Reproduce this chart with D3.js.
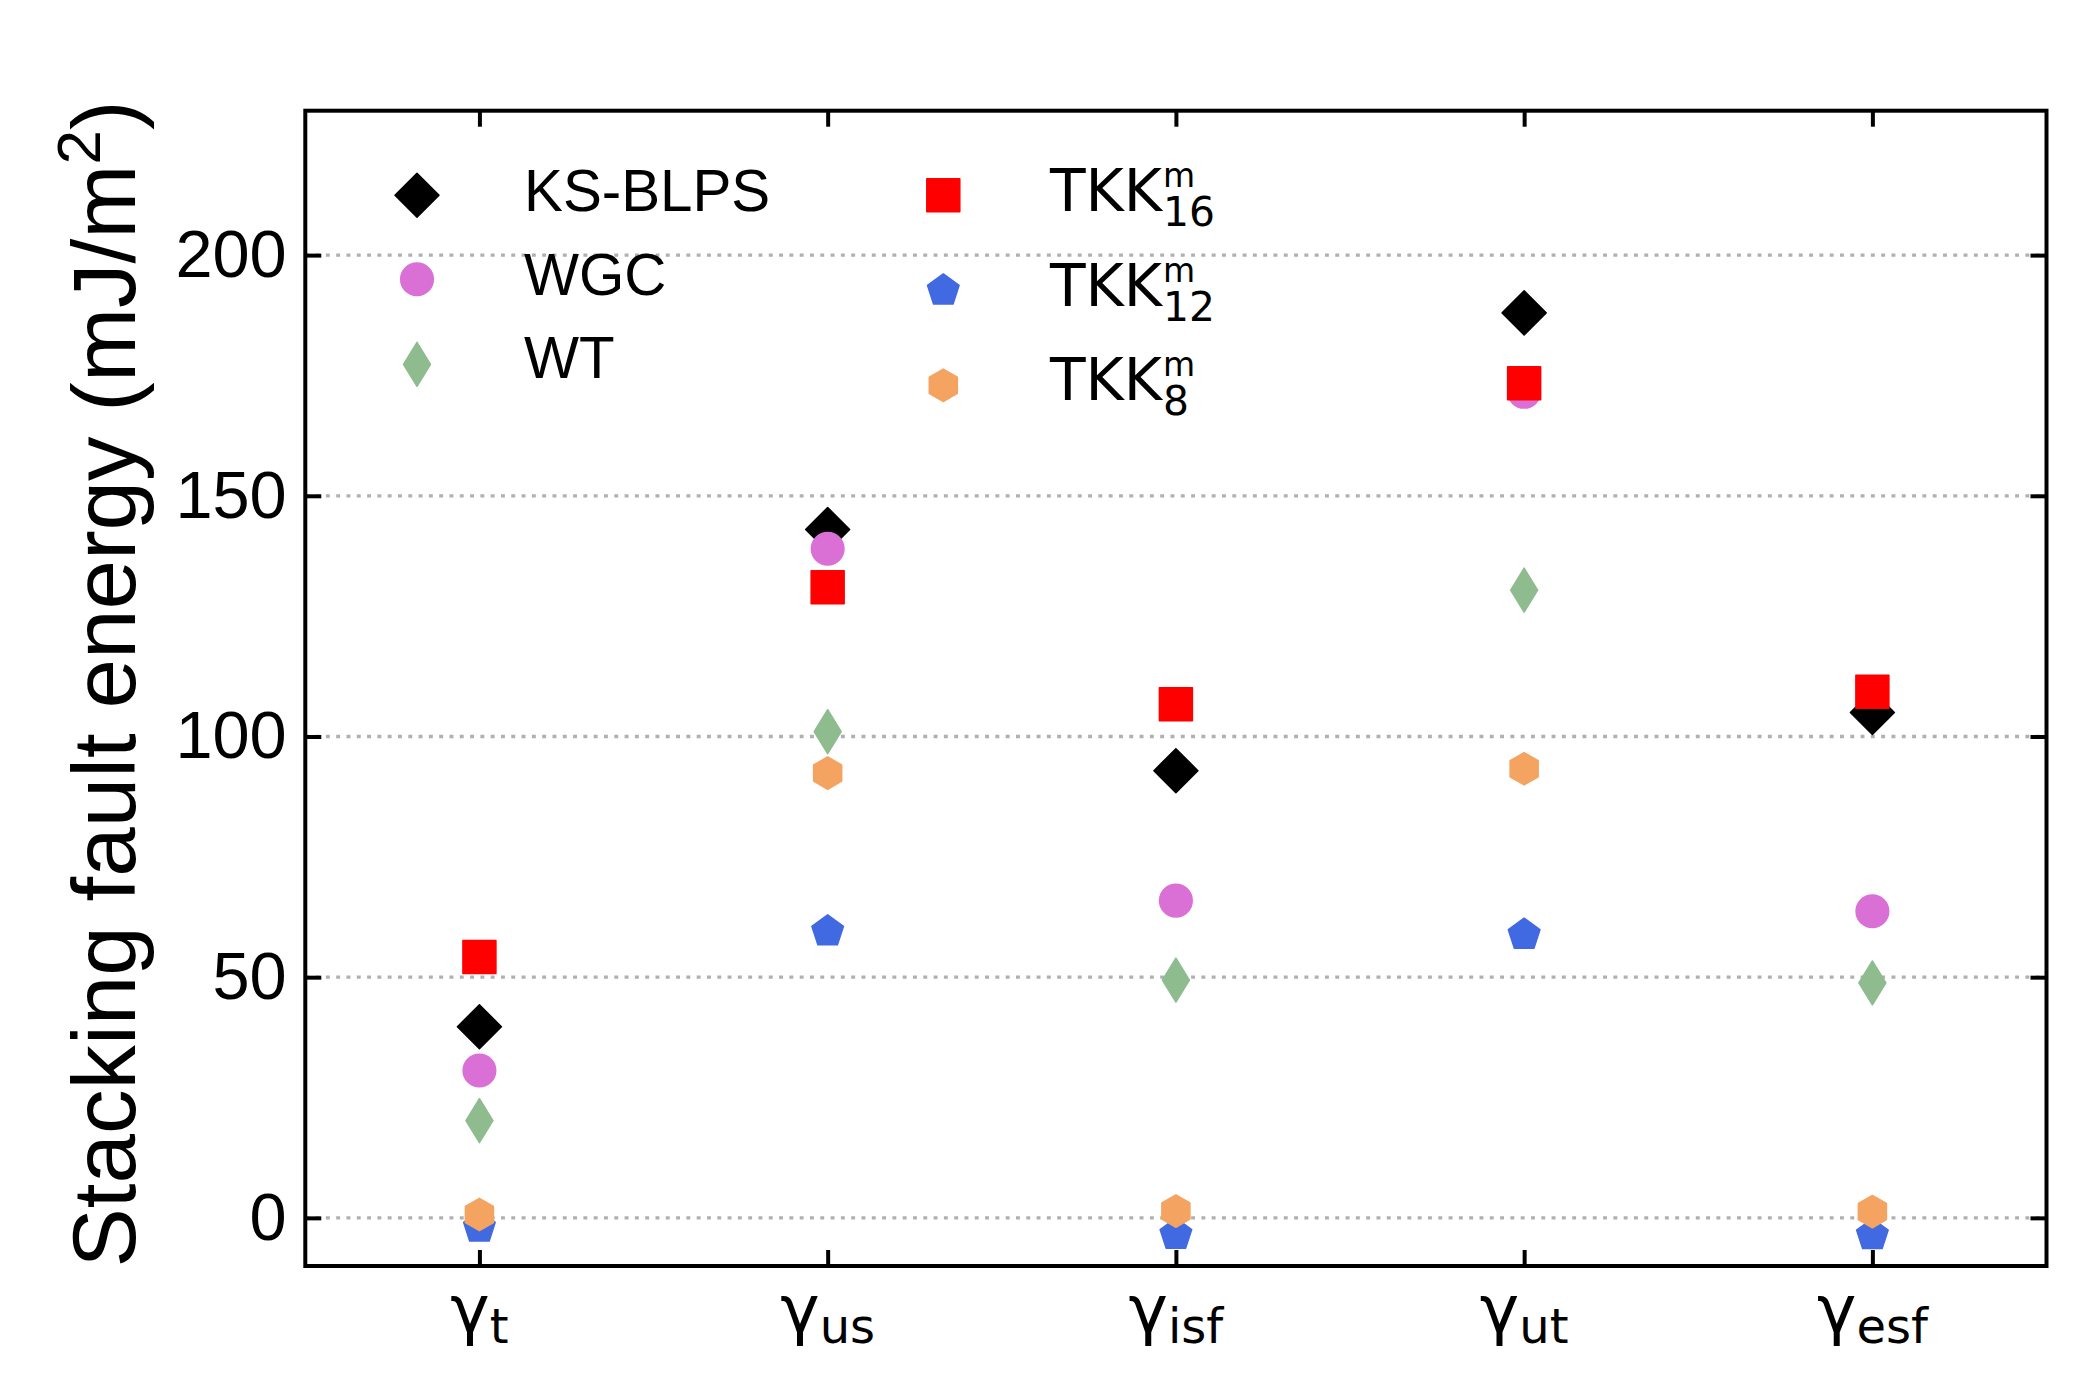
<!DOCTYPE html>
<html>
<head>
<meta charset="utf-8">
<script src="https://cdn.jsdelivr.net/npm/d3@7"></script>
<style>
  html, body { margin: 0; padding: 0; background: #fff; }
  svg { display: block; }
</style>
</head>
<body>
<svg id="chart" width="2100" height="1400"></svg>
<script>
// ---------------- data ----------------
const categories = ["t", "us", "isf", "ut", "esf"];
const yTicks = [0, 50, 100, 150, 200];

const ksblps = [39.7, 143.0, 92.9, 188.0, 105.0];
const wgc    = [30.6, 139.0, 65.9, 171.6, 63.7];
const wt     = [20.2, 101.0, 49.4, 130.4, 48.8];
const tkk16  = [54.2, 131.0, 106.7, 173.4, 109.3];
const tkk12  = [-2.0, 59.5, -3.5, 58.8, -3.6];
const tkk8   = [0.7, 92.4, 1.4, 93.3, 1.3];

const seriesNames = ["KS-BLPS", "WGC", "WT", "TKK16", "TKK12", "TKK8"];
const seriesValues = [ksblps, wgc, wt, tkk16, tkk12, tkk8];

// ---------------- styles ----------------
const colors = ["#000000", "#da70d6", "#8fbc8f", "#ff0000", "#4169e1", "#f4a460"];
const shapes = ["D", "o", "d", "s", "p", "h"];

const svg = d3.select("#chart");
const L = 305.3, R = 2046.5, T = 110.7, B = 1266;

const x = d3.scaleLinear().domain([-0.5, 4.5]).range([L, R]);
const y = d3.scaleLinear().domain([-10, 230]).range([B, T]);

// marker path generator
function markerPath(shape) {
  const p = d3.path();
  if (shape === "D") {
    const a = 22;
    p.moveTo(0, -a); p.lineTo(a, 0); p.lineTo(0, a); p.lineTo(-a, 0); p.closePath();
  } else if (shape === "d") {
    const h = 22, w = 13.5;
    p.moveTo(0, -h); p.lineTo(w, 0); p.lineTo(0, h); p.lineTo(-w, 0); p.closePath();
  } else if (shape === "o") {
    p.arc(0, 0, 16.3, 0, 2 * Math.PI);
  } else if (shape === "s") {
    const s = 16.5;
    p.rect(-s, -s, 2 * s, 2 * s);
  } else if (shape === "p") {
    const r = 16.6;
    for (let k = 0; k < 5; k++) {
      const ang = -Math.PI / 2 + k * 2 * Math.PI / 5;
      const px = r * Math.cos(ang), py = r * Math.sin(ang);
      if (k === 0) p.moveTo(px, py); else p.lineTo(px, py);
    }
    p.closePath();
  } else if (shape === "h") {
    const r = 16.2;
    for (let k = 0; k < 6; k++) {
      const ang = -Math.PI / 2 + k * 2 * Math.PI / 6;
      const px = r * Math.cos(ang), py = r * Math.sin(ang);
      if (k === 0) p.moveTo(px, py); else p.lineTo(px, py);
    }
    p.closePath();
  }
  return p.toString();
}

// ---------------- grid ----------------
svg.append("g").selectAll("line").data(yTicks).join("line")
  .attr("x1", L).attr("x2", R)
  .attr("y1", d => y(d)).attr("y2", d => y(d))
  .attr("stroke", "#b0b0b0").attr("stroke-width", 3.3)
  .attr("stroke-dasharray", "3.9 6.4");

// ---------------- axes ----------------
const tickFont = "'Liberation Sans', Arial, Helvetica, sans-serif";

const yAxis = svg.append("g").attr("transform", `translate(${L},0)`)
  .call(d3.axisLeft(y).tickValues(yTicks).tickSize(-16).tickPadding(18.6));
yAxis.select(".domain").remove();
yAxis.selectAll(".tick line").attr("stroke", "#000").attr("stroke-width", 4);
yAxis.selectAll(".tick text").attr("font-family", tickFont).attr("font-size", 66.7).attr("fill", "#000");

const yAxisR = svg.append("g").attr("transform", `translate(${R},0)`)
  .call(d3.axisRight(y).tickValues(yTicks).tickSize(-16).tickFormat(""));
yAxisR.select(".domain").remove();
yAxisR.selectAll(".tick line").attr("stroke", "#000").attr("stroke-width", 4);

const xIdx = d3.range(categories.length);
const xAxis = svg.append("g").attr("transform", `translate(0,${B})`)
  .call(d3.axisBottom(x).tickValues(xIdx).tickSize(-16).tickFormat(""));
xAxis.select(".domain").remove();
xAxis.selectAll(".tick line").attr("stroke", "#000").attr("stroke-width", 4);

const xAxisT = svg.append("g").attr("transform", `translate(0,${T})`)
  .call(d3.axisTop(x).tickValues(xIdx).tickSize(-16).tickFormat(""));
xAxisT.select(".domain").remove();
xAxisT.selectAll(".tick line").attr("stroke", "#000").attr("stroke-width", 4);

// category labels gamma_sub
const mathFont = "'DejaVu Sans', sans-serif";
const catLabels = svg.append("g").selectAll("text").data(categories).join("text")
  .attr("x", (d, i) => x(i)).attr("y", 1332)
  .attr("text-anchor", "middle")
  .attr("font-family", mathFont).attr("font-size", 66.7).attr("fill", "#000");
catLabels.append("tspan").text("γ");
catLabels.append("tspan").attr("font-size", 48).attr("dy", 11).text(d => d);

// frame
svg.append("rect").attr("x", L).attr("y", T).attr("width", R - L).attr("height", B - T)
  .attr("fill", "none").attr("stroke", "#000").attr("stroke-width", 4);

// ---------------- markers ----------------
seriesValues.forEach((vals, s) => {
  svg.append("g").selectAll("path").data(vals).join("path")
    .attr("d", markerPath(shapes[s]))
    .attr("transform", (v, i) => `translate(${x(i)},${y(v)})`)
    .attr("fill", colors[s]).attr("stroke", colors[s])
    .attr("stroke-width", 1.5).attr("stroke-linejoin", "round");
});

// ---------------- y label ----------------
svg.append("text")
  .attr("transform", "translate(135,684) rotate(-90)")
  .attr("text-anchor", "middle")
  .attr("font-family", tickFont).attr("font-size", 89).attr("fill", "#000")
  .call(t => {
    t.append("tspan").text("Stacking fault energy (mJ/m");
    t.append("tspan").attr("font-size", 62).attr("dy", -35).text("2");
    t.append("tspan").attr("dy", 35).text(")");
  });

// ---------------- legend ----------------
const legendLeft = [
  { s: 0, my: 195.3, ty: 211 },
  { s: 1, my: 279.3, ty: 295 },
  { s: 2, my: 364.3, ty: 377.5 }
];
const legendRight = [
  { s: 3, my: 195.3, ty: 210.7, sub: "16" },
  { s: 4, my: 290.5, ty: 305.7, sub: "12" },
  { s: 5, my: 385.3, ty: 400, sub: "8" }
];
const lg = svg.append("g");
legendLeft.forEach(e => {
  lg.append("path").attr("d", markerPath(shapes[e.s]))
    .attr("transform", `translate(417,${e.my})`)
    .attr("fill", colors[e.s]).attr("stroke", colors[e.s]).attr("stroke-width", 1.5).attr("stroke-linejoin", "round");
  lg.append("text").attr("x", 524).attr("y", e.ty)
    .attr("font-family", tickFont).attr("font-size", 58.3).attr("fill", "#000")
    .text(seriesNames[e.s]);
});
legendRight.forEach(e => {
  lg.append("path").attr("d", markerPath(shapes[e.s]))
    .attr("transform", `translate(943.3,${e.my})`)
    .attr("fill", colors[e.s]).attr("stroke", colors[e.s]).attr("stroke-width", 1.5).attr("stroke-linejoin", "round");
  const t = lg.append("text").attr("x", 1050).attr("y", e.ty)
    .attr("font-family", mathFont).attr("font-size", 58.3).attr("fill", "#000");
  const main = t.append("tspan").text("TKK");
  const w = main.node().getComputedTextLength();
  t.append("tspan").attr("x", 1050 + w + 1).attr("y", e.ty - 24)
    .attr("font-size", 33).text("m");
  t.append("tspan").attr("x", 1050 + w + 1).attr("y", e.ty + 15.3)
    .attr("font-size", 40.8).text(e.sub);
});
</script>
</body>
</html>
